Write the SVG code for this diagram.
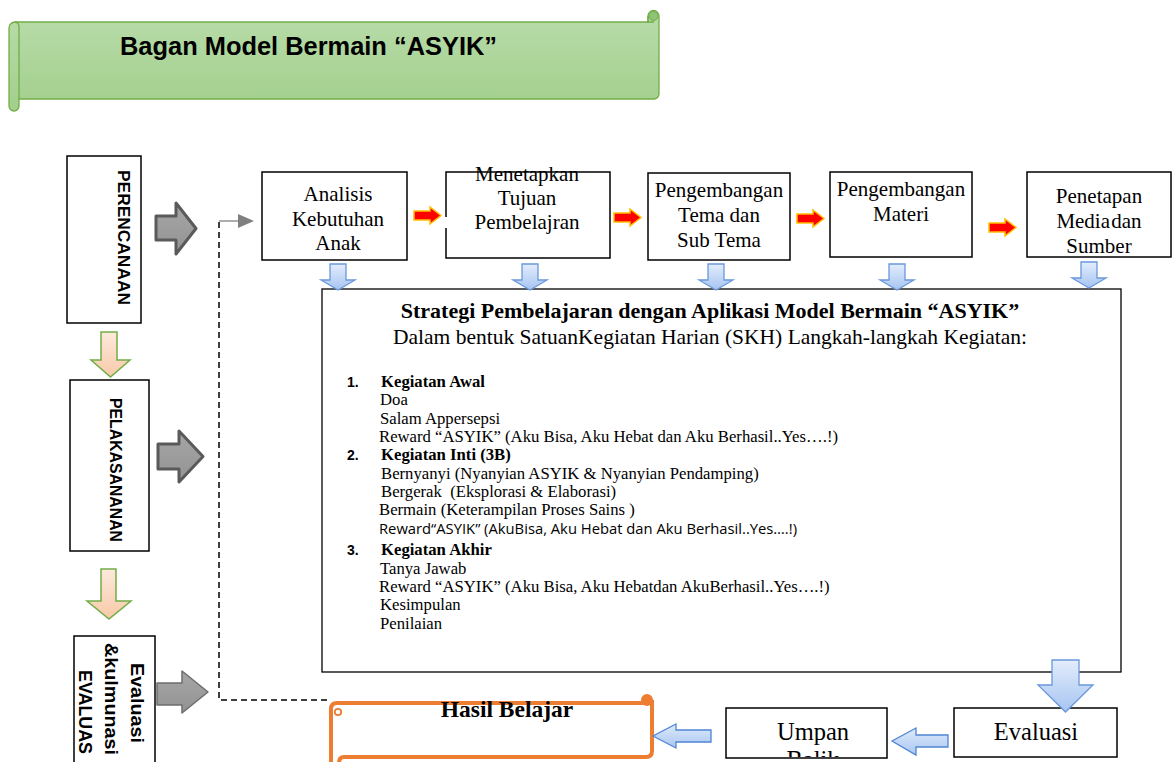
<svg xmlns="http://www.w3.org/2000/svg" xmlns:xlink="http://www.w3.org/1999/xlink" width="1172" height="762" viewBox="0 0 1172 762">
<defs>
  <linearGradient id="gGreen" x1="0" y1="0" x2="0" y2="1">
    <stop offset="0" stop-color="#b9dcaa"/>
    <stop offset="1" stop-color="#a2cf8c"/>
  </linearGradient>
  <linearGradient id="gBlue" x1="0" y1="0" x2="0" y2="1">
    <stop offset="0" stop-color="#e3edfc"/>
    <stop offset="1" stop-color="#a6c4f1"/>
  </linearGradient>
  <linearGradient id="gBlueH" x1="0" y1="0" x2="0" y2="1">
    <stop offset="0" stop-color="#dfeafb"/>
    <stop offset="1" stop-color="#a9c6f1"/>
  </linearGradient>
  <linearGradient id="gPeach" x1="0" y1="0" x2="0" y2="1">
    <stop offset="0" stop-color="#fde9dc"/>
    <stop offset="1" stop-color="#f8c9a8"/>
  </linearGradient>
  <linearGradient id="gGray" x1="0" y1="0" x2="0" y2="1">
    <stop offset="0" stop-color="#a6a6a6"/>
    <stop offset="1" stop-color="#939393"/>
  </linearGradient>
  <path id="dArrow" d="M-8 0 H8 V16 H17 L0 26 L-17 16 H-8 Z"/>
  <path id="rArrow" d="M0 4 H16 V0 L27 8.5 L16 17 V13 H0 Z"/>
  <clipPath id="clipUmpan"><rect x="726" y="708" width="161" height="49"/></clipPath>
  <style>
    .box{fill:#fff;stroke:#000;stroke-width:1.5}
    .t{font-family:"Liberation Serif","Times New Roman",serif;fill:#000}
    .top{font-size:21px;text-anchor:middle}
    .li{font-size:16.7px}
    .b{font-weight:bold}
    .side{font-family:"Liberation Sans",Arial,sans-serif;font-weight:bold;fill:#000}
    .blue{fill:url(#gBlue);stroke:#6a98dc;stroke-width:1.3}
    .red{fill:#ff0000;stroke:#ffc000;stroke-width:1.5}
    .gray{fill:url(#gGray);stroke:#5a5a5a;stroke-width:3;stroke-linejoin:round}
    .peach{fill:url(#gPeach);stroke:#71ad47;stroke-width:1.5}
  </style>
</defs>

<rect width="1172" height="762" fill="#fff"/>

<!-- Banner -->
<g id="banner">
  <path d="M19 22 H648 V16 A5.5 5.5 0 0 1 659 16 V94 A5 5 0 0 1 654 99 H19 V106 A5 5 0 0 1 9 106 V28 A6 6 0 0 1 15 22 Z" fill="url(#gGreen)" stroke="#71ad47" stroke-width="1.3"/>
  <path d="M15 22 A4.5 4.5 0 0 1 19 27 V99" fill="none" stroke="#71ad47" stroke-width="1.3"/>
  <path d="M648 16 V22 H654" fill="none" stroke="#71ad47" stroke-width="1.3"/>
  <circle cx="653.5" cy="16" r="4.5" fill="#8fc377" stroke="#71ad47" stroke-width="1"/>
  <text x="120" y="55" font-family="Liberation Sans, Arial, sans-serif" font-weight="bold" font-size="25" textLength="377" lengthAdjust="spacingAndGlyphs">Bagan Model Bermain “ASYIK”</text>
</g>

<!-- Left column -->
<g id="perencanaan">
  <rect class="box" x="67" y="156" width="74" height="167"/>
  <text class="side" font-size="17" transform="translate(118,170) rotate(90)" textLength="135" lengthAdjust="spacingAndGlyphs">PERENCANAAN</text>
</g>
<g id="pelaksanaan">
  <rect class="box" x="70" y="380" width="79" height="171"/>
  <text class="side" font-size="16" transform="translate(110,398) rotate(90)" textLength="144" lengthAdjust="spacingAndGlyphs">PELAKASANANAN</text>
</g>
<g id="evaluasi-kulmunasi">
  <rect class="box" x="74" y="636" width="81" height="140"/>
  <text class="side" font-size="19" transform="translate(131,663) rotate(90)" textLength="80" lengthAdjust="spacingAndGlyphs">Evaluasi</text>
  <text class="side" font-size="19" transform="translate(105,643) rotate(90)" textLength="112" lengthAdjust="spacingAndGlyphs">&amp;kulmunasi</text>
  <text class="side" font-size="19" transform="translate(79,670) rotate(90)" textLength="84" lengthAdjust="spacingAndGlyphs">EVALUAS</text>
</g>

<!-- Top process boxes -->
<g id="analisis">
  <rect class="box" x="262" y="172" width="145" height="88"/>
  <text class="t top" x="338" y="201">Analisis</text>
  <text class="t top" x="338" y="226">Kebutuhan</text>
  <text class="t top" x="338" y="250">Anak</text>
</g>
<g id="menetapkan">
  <path d="M446 217 V172 H610 V258 H446 V228" fill="#fff" stroke="#000" stroke-width="1.5"/>
  <text class="t top" x="527" y="181">Menetapkan</text>
  <text class="t top" x="527" y="205">Tujuan</text>
  <text class="t top" x="527" y="229">Pembelajran</text>
</g>
<g id="tema">
  <rect class="box" x="648" y="173" width="142" height="87"/>
  <text class="t top" x="719" y="197">Pengembangan</text>
  <text class="t top" x="719" y="222">Tema dan</text>
  <text class="t top" x="719" y="247">Sub Tema</text>
</g>
<g id="materi">
  <rect class="box" x="830" y="172" width="142" height="85"/>
  <text class="t top" x="901" y="196">Pengembangan</text>
  <text class="t top" x="901" y="221">Materi</text>
</g>
<g id="media">
  <rect class="box" x="1027" y="172" width="144" height="85"/>
  <text class="t top" x="1099" y="203">Penetapan</text>
  <text class="t top" x="1099" y="228" word-spacing="-4">Media dan</text>
  <text class="t top" x="1099" y="253">Sumber</text>
</g>

<!-- Strategy box -->
<g id="strategi">
  <rect x="322" y="289" width="799" height="383" fill="#fff" stroke="#000" stroke-width="1.3"/>
  <text class="t b" x="710" y="318" font-size="22" text-anchor="middle">Strategi Pembelajaran dengan Aplikasi Model Bermain “ASYIK”</text>
  <text class="t" x="710" y="344" font-size="21.5" text-anchor="middle">Dalam bentuk SatuanKegiatan Harian (SKH) Langkah-langkah Kegiatan:</text>

  <text class="side" x="347" y="387" font-size="14">1.</text>
  <text class="t li b" x="381" y="387">Kegiatan Awal</text>
  <text class="t li" x="380" y="405">Doa</text>
  <text class="t li" x="380" y="424">Salam Appersepsi</text>
  <text class="t li" x="379" y="442">Reward “ASYIK” (Aku Bisa, Aku Hebat dan Aku Berhasil..Yes….!)</text>

  <text class="side" x="347" y="460" font-size="14">2.</text>
  <text class="t li b" x="381" y="460">Kegiatan Inti (3B)</text>
  <text class="t li" x="381" y="479">Bernyanyi (Nyanyian ASYIK &amp; Nyanyian Pendamping)</text>
  <text class="t li" x="381" y="497" xml:space="preserve">Bergerak  (Eksplorasi &amp; Elaborasi)</text>
  <text class="t li" x="379" y="515">Bermain (Keterampilan Proses Sains )</text>
  <text x="379" y="534" font-family="Open Sans, Liberation Sans, sans-serif" font-size="14.5" textLength="418" lengthAdjust="spacingAndGlyphs">Reward“ASYIK” (AkuBisa, Aku Hebat dan Aku Berhasil..Yes….!)</text>

  <text class="side" x="347" y="555" font-size="14">3.</text>
  <text class="t li b" x="381" y="555">Kegiatan Akhir</text>
  <text class="t li" x="380" y="574">Tanya Jawab</text>
  <text class="t li" x="379" y="592">Reward “ASYIK” (Aku Bisa, Aku Hebatdan AkuBerhasil..Yes….!)</text>
  <text class="t li" x="380" y="610">Kesimpulan</text>
  <text class="t li" x="380" y="629">Penilaian</text>
</g>

<!-- Bottom row -->
<g id="evaluasi">
  <rect class="box" x="954" y="708" width="163" height="49"/>
  <text class="t" x="1036" y="740" font-size="24.5" text-anchor="middle">Evaluasi</text>
</g>
<g id="umpan">
  <rect class="box" x="726" y="708" width="161" height="50"/>
  <g clip-path="url(#clipUmpan)">
    <text class="t" x="813" y="740" font-size="24.5" text-anchor="middle">Umpan</text>
    <text class="t" x="813" y="768" font-size="24.5" text-anchor="middle">Balik</text>
  </g>
</g>
<g id="hasil">
  <path d="M331 772 V709 Q331 703 337 703 H647" fill="none" stroke="#ed7d31" stroke-width="4" stroke-linecap="round"/>
  <path d="M652 700 V751 Q652 757 646 757 H344 Q339 757 339 763 V772" fill="none" stroke="#ed7d31" stroke-width="4" stroke-linejoin="round"/>
  <circle cx="647" cy="700" r="6" fill="#ed7d31"/>
  <circle cx="338" cy="712" r="3.2" fill="none" stroke="#ed7d31" stroke-width="1.8"/>
  <text class="t b" x="507" y="717" font-size="23.5" text-anchor="middle">Hasil Belajar</text>
</g>

<!-- Connectors -->
<g id="connectors">
  <path class="peach" d="M101 332 H117 V360 H130 L110.5 377 L91 360 H101 Z"/>
  <path class="peach" d="M101 569 H116 V601 H131 L109 619 L87 601 H101 Z"/>
  <path class="gray" d="M156 216 H176 V203 L196 228.5 L176 254 V240 H156 Z"/>
  <path class="gray" d="M158 444 H179 V431 L203 456.5 L179 482 V469 H158 Z"/>
  <path d="M157 683 H182 V671 L208 692 L182 713 V705 H157 Z" fill="url(#gGray)" stroke="#6e6e6e" stroke-width="1.5" stroke-linejoin="round"/>
  <path d="M327 700 H219 V221" fill="none" stroke="#000" stroke-width="1.5" stroke-dasharray="6 4"/>
  <path d="M219 221 H240" fill="none" stroke="#808080" stroke-width="1.3"/>
  <path d="M238 214 L254 221 L238 228 Z" fill="#808080"/>
  <use xlink:href="#rArrow" href="#rArrow" class="red" x="414" y="207"/>
  <use xlink:href="#rArrow" href="#rArrow" class="red" x="614" y="209"/>
  <use xlink:href="#rArrow" href="#rArrow" class="red" x="797" y="210"/>
  <use xlink:href="#rArrow" href="#rArrow" class="red" x="989" y="219"/>
  <use xlink:href="#dArrow" href="#dArrow" class="blue" x="338" y="264"/>
  <use xlink:href="#dArrow" href="#dArrow" class="blue" x="530" y="264"/>
  <use xlink:href="#dArrow" href="#dArrow" class="blue" x="716" y="264"/>
  <use xlink:href="#dArrow" href="#dArrow" class="blue" x="897" y="264"/>
  <use xlink:href="#dArrow" href="#dArrow" class="blue" x="1089" y="262"/>
  <path class="blue" d="M1052 660 H1079 V685 H1093 L1065.5 712 L1038 685 H1052 Z"/>
  <path d="M948 735 V747 H916 V755 L892 741 L916 728 V735 Z" fill="url(#gBlueH)" stroke="#4f85d4" stroke-width="1.3"/>
  <path d="M711 730 V742 H676 V748 L653 736 L676 724 V730 Z" fill="url(#gBlueH)" stroke="#4f85d4" stroke-width="1.3"/>
</g>
</svg>
